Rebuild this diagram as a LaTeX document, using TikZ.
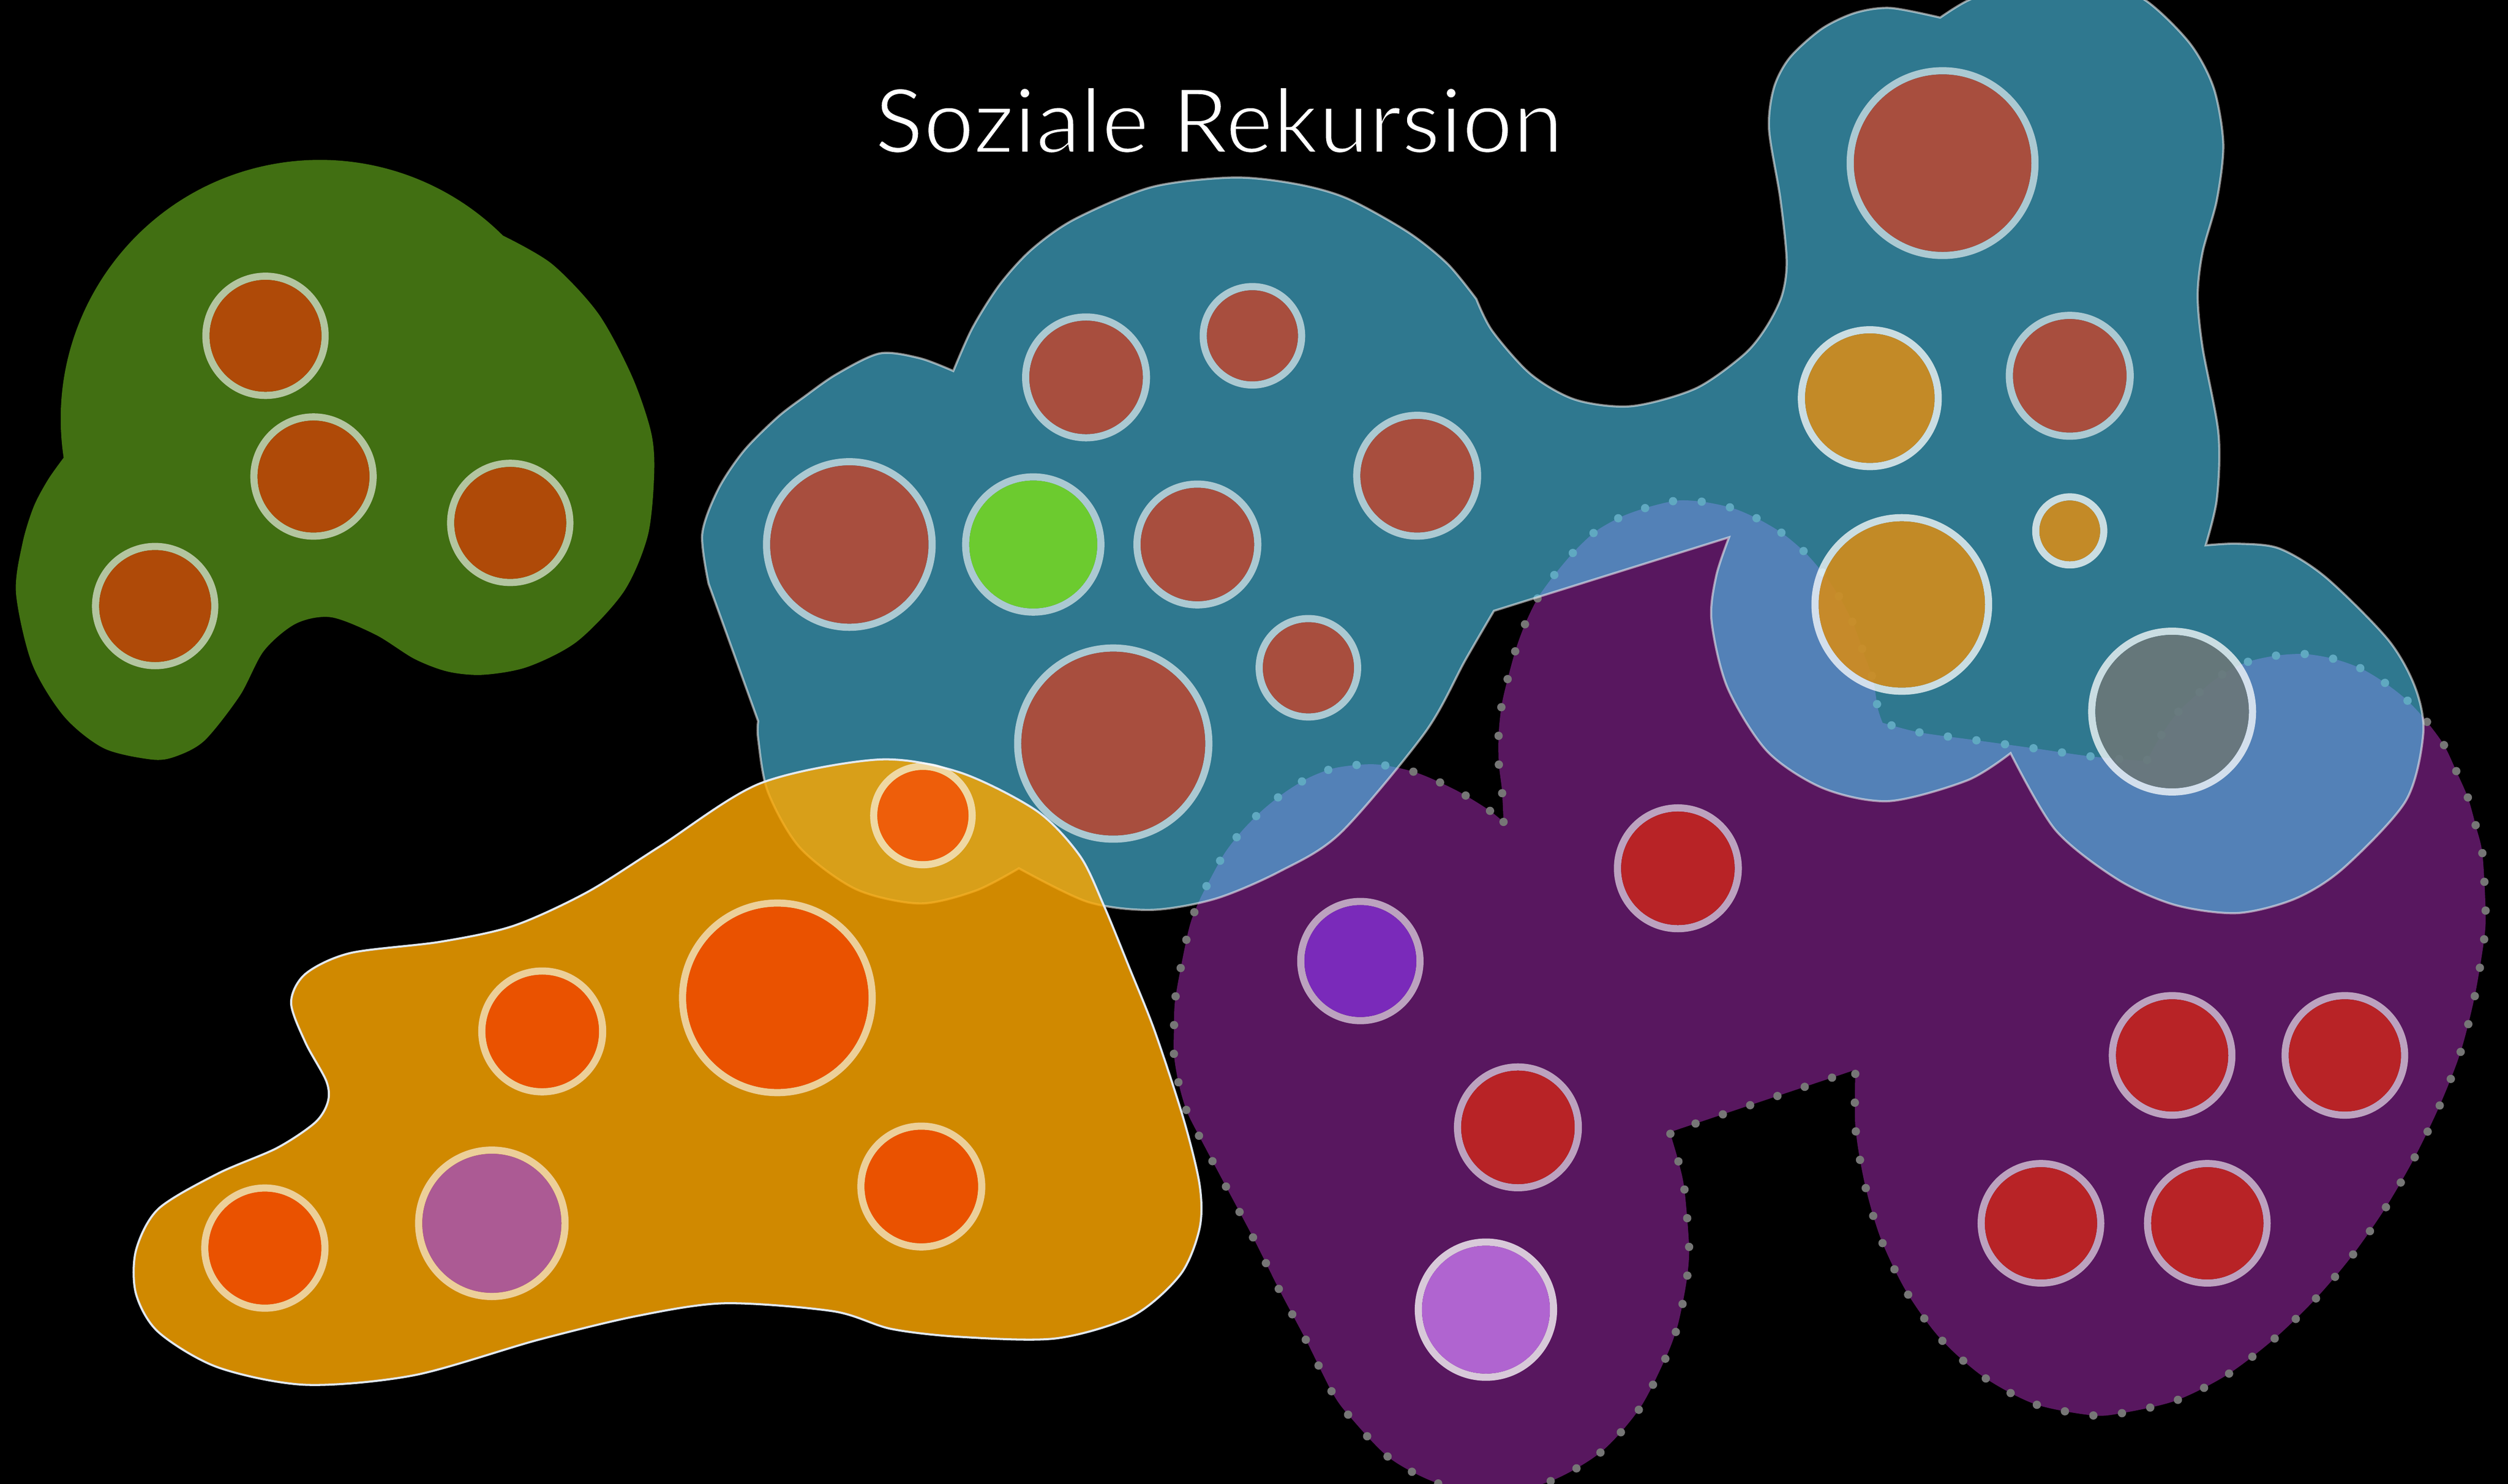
\documentclass[tikz,border=0pt]{standalone}
\usepackage{fontspec}
\newfontfamily\titlefont{Lato}
\newlength\px
\setlength\px{0.3mm}
\definecolor{greenblob}{RGB}{65,111,18}
\definecolor{bluebase}{RGB}{81,207,248}
\definecolor{blueline}{RGB}{238,238,238}
\definecolor{purpleblob}{RGB}{88,23,95}
\definecolor{purpledot}{RGB}{118,118,118}
\definecolor{orangebase}{RGB}{254,168,0}
\definecolor{orangeline}{RGB}{226,233,240}
\definecolor{cgreenfill}{RGB}{175,74,8}
\definecolor{cbrown}{RGB}{168,78,62}
\definecolor{clime}{RGB}{108,203,47}
\definecolor{cgold}{RGB}{195,138,39}
\definecolor{cgoldt}{RGB}{211,140,27}
\definecolor{cgrayt}{RGB}{107,119,120}
\definecolor{cred}{RGB}{184,35,38}
\definecolor{cviolet}{RGB}{122,42,186}
\definecolor{clilac}{RGB}{176,100,208}
\definecolor{corange}{RGB}{234,82,0}
\definecolor{corangelight}{RGB}{238,94,10}
\definecolor{cmauve}{RGB}{172,90,148}
% circle with translucent white ring: x, y, outer radius, fill options, ring opacity
\newcommand\cellc[5]{%
  \fill[white,fill opacity=#5,even odd rule] (#1,#2) circle[radius=#3] (#1,#2) circle[radius=#3-4.5];
  \path[#4] (#1,#2) circle[radius=#3-4.5];
}
\def\greenpath{(39.8,286.2) arc[start angle=171.4, end angle=315, radius=162] -- plot[smooth] coordinates {(314.6,147.4) (345,165) (374,196) (395,235) (407,270) (409,296) (405,335) (390,370) (361,401) (330,417) (302,422) (280,420) (259,412) (235,397) (207,386) (185,390) (165,407) (150,435) (128,463) (110,473) (95,475) (65,468) (40,448) (20,415) (10,371) (14,340) (21,317) (30,300) (39.8,286.2)} -- cycle}
\def\bluepath{(474,451) -- plot[smooth] coordinates {(443,365) (439,334) (449,306) (465,282) (486,261) (503,248) (523,234) (550,221) (575,224) (596,232)} -- plot[smooth] coordinates {(596,232) (608,205) (625,178) (645,156) (672,137) (720,117) (771,111) (810,115) (842,124) (880,145) (905,165) (923,187)} -- plot[smooth] coordinates {(923,187) (933,207) (957,234) (985,250) (1020,254) (1060,243) (1090,222) (1104,205) (1114,185) (1117,163) (1113,124) (1106,81) (1109,55) (1119,36) (1139,18) (1160,8) (1182,5) (1213,11)} -- plot[smooth] coordinates {(1213,11) (1231,0) (1260,-10) (1286,-14) (1312,-10) (1341,0) (1369,27) (1384,55) (1390,90) (1386,125) (1377,158) (1374,185) (1377,217) (1387,271) (1386,312) (1379,341)} -- plot[smooth] coordinates {(1379,341) (1399,340) (1425,343) (1454,361) (1493,400) (1510,430) (1515,459) (1504,501) (1465,543) (1435,562) (1399,571) (1360,566) (1324,550) (1285,519) (1257,471)} -- plot[smooth] coordinates {(1257,471) (1230,488) (1181,501) (1140,493) (1105,470) (1080,430) (1070,388) (1073,360) (1081,336)} -- (934,382) -- plot[smooth] coordinates {(934,382) (916,413) (891,458) (838,521) (800,545) (760,562) (720,569) (680,564) (637,543)} -- plot[smooth] coordinates {(637,543) (610,557) (575,565) (535,556) (500,530) (480,495) (474,462) (474,451)} -- cycle}
\def\purplepath{plot[smooth] coordinates {(940,514) (939,494) (937,477) (937,458) (939,440) (943,423) (948,405) (954,389) (962,373) (973,358) (985,344) (998,332) (1014,323) (1031,317) (1049,313) (1066,314) (1084,318) (1100,325) (1115,334) (1129,346) (1141,360) (1151,375) (1159,391) (1165,408) (1171,425) (1174,443) (1177,452)} -- plot[smooth] coordinates {(1177,452) (1200,458) (1236,463) (1272,468) (1307,473) (1342,476)} -- plot[smooth] coordinates {(1342,476) (1351,460) (1362,445) (1375,433) (1389,422) (1405,414) (1423,410) (1441,409) (1459,412) (1476,418) (1491,427) (1505,438) (1517,451) (1528,466) (1536,483) (1543,499) (1548,517) (1552,534) (1554,570) (1553,588) (1547,624) (1538,659) (1525,692) (1509,725) (1491,756) (1470,786) (1447,813) (1421,838) (1392,860) (1360,876) (1325,884) (1307,885) (1272,878) (1240,861) (1213,837) (1192,808) (1176,775) (1166,741) (1160,705) (1160,669)} -- (1044,708) -- plot[smooth] coordinates {(1044,708) (1049,725) (1053,743) (1056,779) (1055,797) (1052,815) (1048,832) (1041,850) (1025,881) (1001,908) (970,926) (935,934) (900,928) (869,912) (844,886) (833,871) (817,839) (800,807) (784,775) (767,743) (750,711) (742,695) (737,678) (734,660) (734,642) (735,623) (743,582) (749,565) (757,549) (766,533) (777,519) (790,506) (804,495) (819,486) (836,480) (860,478) (885,483) (910,494) (930,506) (940,514)} -- cycle}
\def\orangepath{plot[smooth cycle] coordinates {(549,475) (600,483) (648,507) (675,535) (690,566) (706,605) (722,645) (740,700) (750,741) (750,768) (738,797) (708,823) (660,837) (600,836) (557,831) (521,820) (453,815) (398,823) (336,838) (259,860) (191,866) (136,855) (99,833) (85,809) (85,782) (99,756) (136,734) (173,718) (197,702) (205,689) (204,676) (191,652) (182,627) (191,609) (219,596) (275,589) (321,579) (367,558) (413,529) (475,490)}}
\begin{document}
\begin{tikzpicture}[x=0.3mm,y=-0.3mm]
\useasboundingbox (0,0) rectangle (1568,928);
\fill[black] (0,0) rectangle (1568,928);
% green group
\fill[greenblob] \greenpath;
\cellc{166}{210}{39.5}{fill=cgreenfill}{0.6}
\cellc{196}{298}{39.5}{fill=cgreenfill}{0.6}
\cellc{319}{327}{39.5}{fill=cgreenfill}{0.6}
\cellc{97}{379}{39.5}{fill=cgreenfill}{0.6}
% purple group
\fill[purpleblob] \purplepath;
\draw[purpledot, line width=5.2\px, dash pattern=on 0pt off 18\px, line cap=round] \purplepath;
\cellc{1049}{543}{40}{fill=cred}{0.6}
\cellc{850.5}{601}{39.5}{fill=cviolet}{0.6}
\cellc{949}{705}{40}{fill=cred}{0.6}
\cellc{929}{819}{44.5}{fill=clilac}{0.77}
\cellc{1358}{660}{39.6}{fill=cred}{0.6}
\cellc{1466}{660}{39.6}{fill=cred}{0.6}
\cellc{1276}{765}{39.6}{fill=cred}{0.6}
\cellc{1380}{765}{39.6}{fill=cred}{0.6}
% blue group
\path[fill=bluebase, fill opacity=0.58, draw=blueline, draw opacity=0.58, line width=1.35\px] \bluepath;
\cellc{1214.5}{102}{60}{fill=cbrown}{0.6}
\cellc{679}{236}{40}{fill=cbrown}{0.6}
\cellc{783}{210}{33}{fill=cbrown}{0.6}
\cellc{886}{297.5}{40}{fill=cbrown}{0.6}
\cellc{531}{340.5}{54}{fill=cbrown}{0.6}
\cellc{646}{340.5}{44.5}{fill=clime}{0.6}
\cellc{748.6}{340.5}{40}{fill=cbrown}{0.6}
\cellc{818}{417.6}{33}{fill=cbrown}{0.6}
\cellc{696}{465}{62}{fill=cbrown}{0.6}
\cellc{1169}{249}{45}{fill=cgold}{0.75}
\cellc{1294}{235}{40}{fill=cbrown}{0.6}
\cellc{1294}{332}{23.5}{fill=cgold}{0.75}
\cellc{1189}{378}{56.5}{fill=cgoldt, fill opacity=0.9}{0.75}
\cellc{1358}{445}{52.5}{fill=cgrayt, fill opacity=0.9}{0.75}
% orange group
\path[fill=orangebase, fill opacity=0.82, draw=orangeline, line width=1.3\px] \orangepath;
\cellc{577}{510}{33}{fill=corangelight}{0.6}
\cellc{486}{624}{61.5}{fill=corange}{0.6}
\cellc{339}{645}{40}{fill=corange}{0.6}
\cellc{576}{742}{40}{fill=corange}{0.6}
\cellc{165.6}{780.5}{39.8}{fill=corange}{0.6}
\cellc{307.5}{765}{48}{fill=cmauve}{0.6}
% title
\node[text=white, font=\titlefont\fontsize{48}{56}\selectfont, anchor=base, inner sep=0pt] (title) at (762,95.7) {\special{pdf:literal q 2 Tr 0 0 0 RG 1.4 w}Soziale Rekursion\special{pdf:literal Q}};
\end{tikzpicture}
\end{document}
